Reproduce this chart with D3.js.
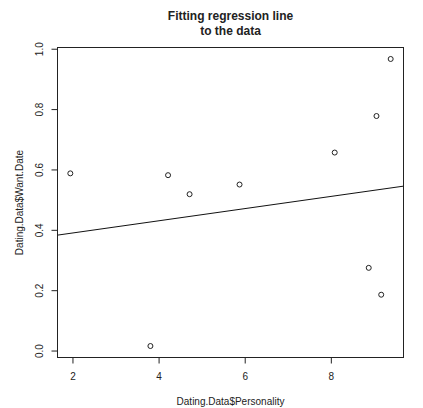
<!DOCTYPE html>
<html>
<head>
<meta charset="utf-8">
<script src="https://cdn.jsdelivr.net/npm/d3@7"></script>
<style>
  html, body { margin: 0; padding: 0; background: #fff; }
  svg text { font-family: "Liberation Sans", Arial, Helvetica, sans-serif; fill: #222; }
</style>
</head>
<body>
<svg id="chart" width="423" height="408"></svg>
<script>
// Observations: personality score vs. want-date proportion
const personality = [1.95, 3.81, 4.22, 4.72, 5.88, 8.09, 8.88, 9.17, 9.06, 9.39];
const wantDate    = [0.587, 0.015, 0.581, 0.518, 0.550, 0.656, 0.274, 0.185, 0.777, 0.966];

// Fitted line coefficients (intercept, slope)
const fitIntercept = 0.349;
const fitSlope = 0.0202;

const xTicks = [2, 4, 6, 8];
const yTicks = [0.0, 0.2, 0.4, 0.6, 0.8, 1.0];

const titleLines = ["Fitting regression line", "to the data"];
const xLabel = "Dating.Data$Personality";
const yLabel = "Dating.Data$Want.Date";

const svg = d3.select("#chart");
const box = { left: 57.5, right: 403.5, top: 47.5, bottom: 357.5 };

// R-style 4% padding on the data range
function padded(vals) {
  const [lo, hi] = d3.extent(vals);
  const p = (hi - lo) * 0.04;
  return [lo - p, hi + p];
}

const x = d3.scaleLinear().domain(padded(personality)).range([box.left, box.right]);
const y = d3.scaleLinear().domain(padded(wantDate)).range([box.bottom, box.top]);

// Clip region for the fitted line
svg.append("clipPath").attr("id", "plotArea")
  .append("rect")
  .attr("x", box.left).attr("y", box.top)
  .attr("width", box.right - box.left).attr("height", box.bottom - box.top);

// Axes
const xAxis = d3.axisBottom(x).tickValues(xTicks).tickFormat(d3.format("d")).tickSize(6).tickPadding(9);
const gx = svg.append("g").attr("transform", `translate(0,${box.bottom})`).call(xAxis);
gx.select(".domain").remove();
gx.selectAll("line").attr("stroke", "#222");
gx.selectAll("text").attr("font-size", 10);

const yAxis = d3.axisLeft(y).tickValues(yTicks).tickFormat(d3.format(".1f")).tickSize(6).tickPadding(0);
const gy = svg.append("g").attr("transform", `translate(${box.left},0)`).call(yAxis);
gy.select(".domain").remove();
gy.selectAll("line").attr("stroke", "#222");
gy.selectAll("text")
  .attr("font-size", 10)
  .attr("text-anchor", "middle")
  .attr("x", 0).attr("dy", null)
  .attr("transform", "translate(-17.5,0) rotate(-90)")
  .attr("y", 0)
  .attr("dominant-baseline", "middle");

// Plot frame
svg.append("rect")
  .attr("x", box.left).attr("y", box.top)
  .attr("width", box.right - box.left).attr("height", box.bottom - box.top)
  .attr("fill", "none").attr("stroke", "#222").attr("stroke-width", 1);

// Fitted regression line across the full x range
const [x0, x1] = x.domain();
svg.append("line")
  .attr("clip-path", "url(#plotArea)")
  .attr("x1", x(x0)).attr("y1", y(fitIntercept + fitSlope * x0))
  .attr("x2", x(x1)).attr("y2", y(fitIntercept + fitSlope * x1))
  .attr("stroke", "#111").attr("stroke-width", 1);

// Points
svg.append("g").selectAll("circle")
  .data(d3.zip(personality, wantDate))
  .join("circle")
  .attr("cx", d => x(d[0]))
  .attr("cy", d => y(d[1]))
  .attr("r", 2.5)
  .attr("fill", "none")
  .attr("stroke", "#222")
  .attr("stroke-width", 1);

// Title
const cx = (box.left + box.right) / 2;
svg.append("text")
  .attr("x", cx).attr("y", 20)
  .attr("text-anchor", "middle").attr("font-size", 12).attr("font-weight", "bold")
  .selectAll("tspan").data(titleLines).join("tspan")
  .attr("x", cx).attr("dy", (d, i) => i === 0 ? 0 : 14.5)
  .text(d => d);

// Axis titles
svg.append("text")
  .attr("x", cx).attr("y", 405)
  .attr("text-anchor", "middle").attr("font-size", 10)
  .text(xLabel);

svg.append("text")
  .attr("transform", `translate(23,${(box.top + box.bottom) / 2}) rotate(-90)`)
  .attr("text-anchor", "middle").attr("font-size", 10)
  .text(yLabel);
</script>
</body>
</html>
